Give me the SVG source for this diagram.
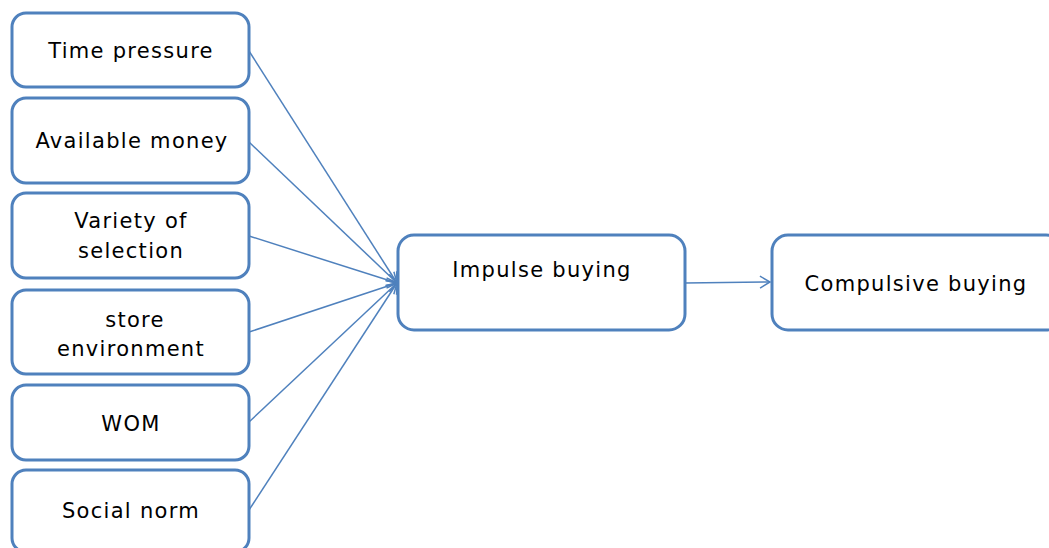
<svg xmlns="http://www.w3.org/2000/svg" width="1049" height="548" viewBox="0 0 1049 548">
<style>
.box{fill:#fff;stroke:#4F81BD;stroke-width:3}
.t{font-family:"DejaVu Sans","Open Sans",sans-serif;font-size:21px;letter-spacing:1.3px;fill:#000;text-anchor:middle}
.c{stroke:#4F81BD;stroke-width:1.5;fill:none}
</style>
<defs>
<marker id="a" markerWidth="14" markerHeight="14" refX="11" refY="7" orient="auto" markerUnits="userSpaceOnUse">
<path d="M1,1 L11,7 L1,13" fill="none" stroke="#4F81BD" stroke-width="1.5"/>
</marker>
</defs>
<rect width="1049" height="548" fill="#fff"/>
<g id="connectors">
<line class="c" x1="249" y1="51" x2="397" y2="283" marker-end="url(#a)"/>
<line class="c" x1="249" y1="142" x2="397" y2="283" marker-end="url(#a)"/>
<line class="c" x1="249" y1="236" x2="397" y2="283" marker-end="url(#a)"/>
<line class="c" x1="249" y1="332" x2="397" y2="283" marker-end="url(#a)"/>
<line class="c" x1="249" y1="422" x2="397" y2="283" marker-end="url(#a)"/>
<line class="c" x1="249" y1="510" x2="397" y2="283" marker-end="url(#a)"/>
<line class="c" x1="685" y1="283" x2="770" y2="282" marker-end="url(#a)"/>
</g>
<g id="n1"><rect class="box" x="12" y="13" width="237" height="74" rx="14"/><text class="t" x="131" y="58">Time pressure</text></g>
<g id="n2"><rect class="box" x="12" y="98" width="237" height="85" rx="14"/><text class="t" x="132" y="148">Available money</text></g>
<g id="n3"><rect class="box" x="12" y="193" width="237" height="85" rx="14"/><text class="t" x="131" y="228">Variety of</text><text class="t" x="131" y="258">selection</text></g>
<g id="n4"><rect class="box" x="12" y="290" width="237" height="84" rx="14"/><text class="t" x="135" y="327">store</text><text class="t" x="131" y="356">environment</text></g>
<g id="n5"><rect class="box" x="12" y="385" width="237" height="75" rx="14"/><text class="t" x="131" y="431">WOM</text></g>
<g id="n6"><rect class="box" x="12" y="470" width="237" height="82" rx="14"/><text class="t" x="131" y="518">Social norm</text></g>
<g id="n7"><rect class="box" x="398" y="235" width="287" height="95" rx="16"/><text class="t" x="542" y="277">Impulse buying</text></g>
<g id="n8"><rect class="box" x="772" y="235" width="290" height="95" rx="16"/><text class="t" x="916" y="291">Compulsive buying</text></g>
</svg>
